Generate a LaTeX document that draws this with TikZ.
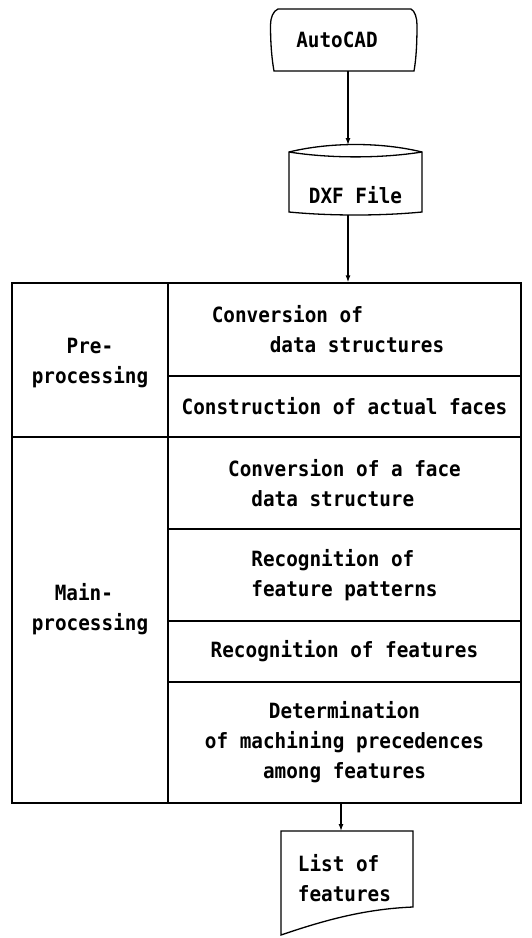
\documentclass[tikz,border=0pt]{standalone}
\usepackage{fontspec}
\newfontfamily\dmono{DejaVu Sans Mono}[FakeStretch=0.92]
\usetikzlibrary{arrows.meta}
\begin{document}
\begin{tikzpicture}[x=1pt,y=-1pt,line width=1.3pt,
  txt/.style={font=\dmono\bfseries\fontsize{21}{30}\selectfont, align=center, inner sep=0pt},
  cell/.style={draw, inner sep=0pt, minimum width=353pt, txt},
  lcell/.style={draw, inner sep=0pt, minimum width=156pt},
  ghost/.style={inner sep=0pt, outer sep=0pt},
  arr/.style={-{Latex[length=7pt,width=5pt]}}]
\useasboundingbox (0,0) rectangle (532,938);

% AutoCAD terminal
\node[ghost, minimum width=147pt, minimum height=62pt] (auto) at (343.5,40) {};
\draw (278,9) -- (411,9) .. controls (415,11) and (417,18) .. (417,25)
  .. controls (417,45) and (416,60) .. (414,71) -- (274,71)
  .. controls (272,60) and (270.5,45) .. (270.5,25)
  .. controls (270.5,18) and (273,11) .. (278,9) -- cycle;
\node[txt] (autot) at (337,40) {AutoCAD};

% DXF file (cylinder)
\node[ghost, minimum width=133pt, minimum height=70pt] (dxf) at (355.5,180) {};
\draw (289,152) .. controls (330,142) and (381,142) .. (422,152) -- (422,212)
  .. controls (381,216) and (330,216) .. (289,212) -- cycle;
\draw (289,152) .. controls (330,158.5) and (381,158.5) .. (422,152);
\node[txt] (dxft) at (355.5,195) {DXF File};

% table: left column
\node[lcell, minimum height=154pt] (pre) at (90,360) {};
\node[lcell, minimum height=366pt] (main) at (90,620) {};
\node[txt] (pret) at (90,363) {Pre-\\processing};
\node[txt, align=left] (maint) at (90,609) {\hspace*{23pt}Main-\\processing};

% table: right column
\node[cell, minimum height=93pt, align=left] (conv) at (344.5,329.5)
  {Conversion of\\\hspace*{58pt}data structures\hspace*{33pt}};
\node[cell, minimum height=61pt] (cons) at (344.5,406.5) {Construction of actual faces};
\node[cell, minimum height=92pt, align=left] (face) at (344.5,483) {Conversion of a face\\\hspace*{23.2pt}data structure};
\node[cell, minimum height=92pt, align=left] (pat) at (344.5,575) {Recognition of\\feature patterns};
\node[cell, minimum height=61pt] (feat) at (344.5,651.5) {Recognition of features};
\node[cell, minimum height=121pt] (det) at (344.5,742.5) {Determination\\of machining precedences\\among features};

% List of features (document)
\node[ghost, minimum width=132pt, minimum height=104pt] (doc) at (347,883) {};
\draw (281,831) -- (413,831) -- (413,907)
  .. controls (365,909) and (325,920) .. (281,935) -- cycle;
\node[txt, align=left] (doct) at (344.4,878) {List of\\features};

% connectors
\coordinate (ax) at (348,0);
\coordinate (bx) at (341,0);
\draw[arr] (auto.south -| ax) -- (dxf.north -| ax);
\draw[arr] (dxf.south -| ax) -- (conv.north -| ax);
\draw[arr] (det.south -| bx) -- (doc.north -| bx);
\end{tikzpicture}
\end{document}
